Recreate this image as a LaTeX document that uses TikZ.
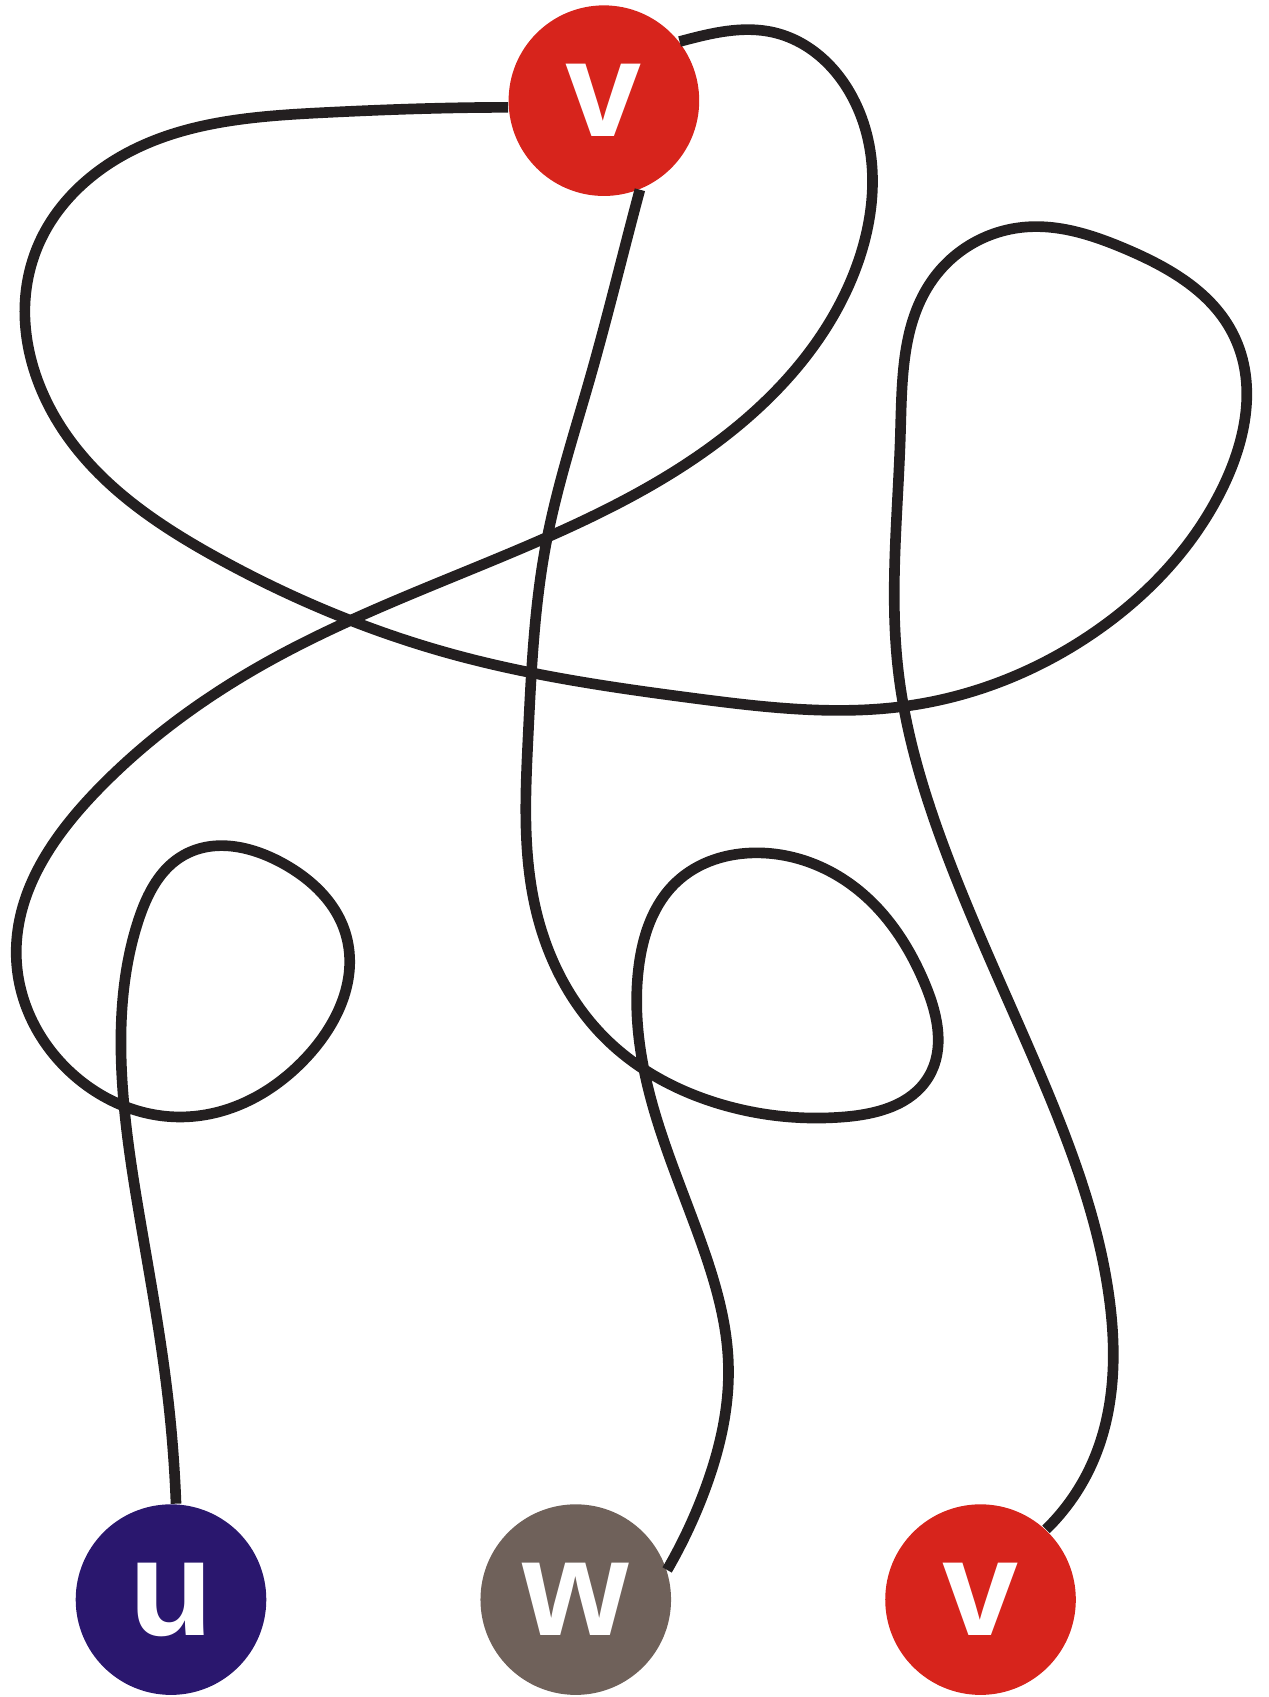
\documentclass[tikz,border=0pt]{standalone}
\usepackage{fontspec}
\setsansfont{Liberation Sans}
\usepackage{tikz}
\usetikzlibrary{positioning,hobby}
\definecolor{vred}{HTML}{D7241C}
\definecolor{unavy}{HTML}{2A176E}
\definecolor{wgrey}{HTML}{6F615A}
\definecolor{strand}{HTML}{231F20}
\tikzset{
  vert/.style={circle,minimum size=1.76cm,inner sep=0pt,text=white,
    font=\fontsize{36}{36}\selectfont\sffamily\bfseries},
  strandline/.style={draw=strand,line width=2.8pt,use Hobby shortcut}
}

\begin{document}
\begin{tikzpicture}[x=0.01cm,y=-0.01cm]
    \useasboundingbox (0,0) rectangle (1172,1568);

    \node[vert,fill=vred]   (vt) at (558,93)   {v};
    \node[vert,fill=unavy]  (u)  at (158,1478) {u};
    \node[vert,fill=wgrey]  (w)  at (532,1478) {w};
    \node[vert,fill=vred]   (vb) at (906,1478) {v};

    % big loop from the top v round to the v below
    \draw[strandline] ([out angle=180]vt.184) .. (300,104) .. (120,140)
      .. (32,235) .. (60,400) .. (200,515) .. (420,605) .. (640,645)
      .. (840,652) .. (1010,585) .. (1130,450) .. (1140,310) .. (1040,230)
      .. (945,210) .. (862,258) .. (832,400) .. (830,620) .. (875,790)
      .. (960,990) .. (1025,1200) .. (1010,1350) .. (vb.47);

    % strand down to u
    \draw[strandline] ([out angle=15]vt.38) .. (715,30) .. (785,85)
      .. (790,250) .. (680,395) .. (450,520) .. (250,610) .. (90,730)
      .. (15,880) .. (70,995) .. (170,1032) .. (285,975) .. (320,865)
      .. (260,797) .. (170,790) .. (128,850) .. (112,980) .. (130,1130)
      .. (155,1290) .. (u.87);

    % strand down to w
    \draw[strandline] ([out angle=-105]vt.-68) .. (545,350) .. (505,500)
      .. (488,680) .. (495,840) .. (560,960) .. (665,1020) .. (780,1032)
      .. (858,995) .. (855,910) .. (790,820) .. (700,788) .. (625,815)
      .. (590,895) .. (600,1010) .. (645,1140) .. (673,1260) .. (650,1380)
      .. (w.18);
\end{tikzpicture}
\end{document}
